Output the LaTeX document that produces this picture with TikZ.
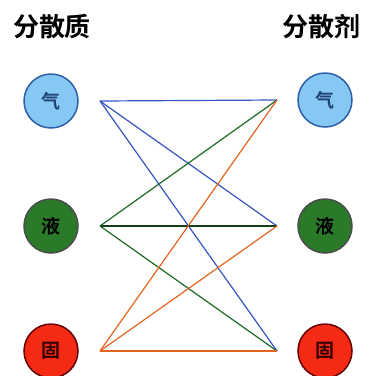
\documentclass[tikz,border=0pt]{standalone}
\usepackage{fontspec}
\newfontfamily\cjk{Noto Sans CJK SC Bold}
\definecolor{gasfill}{HTML}{86C8F4}
\definecolor{gasline}{HTML}{2F5FA8}
\definecolor{liqfill}{HTML}{2A7A2A}
\definecolor{solfill}{HTML}{F42A14}
\definecolor{blueline}{HTML}{3555C0}
\definecolor{greenline}{HTML}{1E6A24}
\definecolor{orangeline}{HTML}{E2641E}
\tikzset{
  phase/.style={circle,minimum size=54pt,inner sep=0pt,line width=1.5pt,
    font=\cjk\fontsize{19}{19}\selectfont},
  title/.style={font=\cjk\fontsize{26}{26}\selectfont,inner sep=0pt},
  link/.style={line width=1.2pt}
}
\begin{document}
\begin{tikzpicture}[x=1pt,y=-1pt]
\useasboundingbox (0,0) rectangle (368,376);

\node[title] (zhi) at (52,27) {分散质};
\node[title] (ji) at (322,27) {分散剂};

\node[phase,draw=gasline,fill=gasfill,text=gasline!70!black] (qiL) at (51,101) {气};
\node[phase,draw=black!70,fill=liqfill,text=black] (yeL) at (51,226) {液};
\node[phase,draw=black!60!red,fill=solfill,text=black!80!red] (guL) at (51,351) {固};
\node[phase,draw=gasline,fill=gasfill,text=gasline!70!black] (qiR) at (325,100) {气};
\node[phase,draw=black!70,fill=liqfill,text=black] (yeR) at (325,226) {液};
\node[phase,draw=black!60!red,fill=solfill,text=black!80!red] (guR) at (325,351) {固};

\coordinate (a1) at (100,101);
\coordinate (a2) at (100,226);
\coordinate (a3) at (100,351);
\coordinate (b1) at (277,100);
\coordinate (b2) at (277,226);
\coordinate (b3) at (277,351);

\draw[link,blueline] (a1) -- (b1);
\draw[link,blueline] (a1) -- (b2);
\draw[link,blueline] (a1) -- (b3);
\draw[link,greenline] (a2) -- (b1);
\draw[link,greenline!60!black] (a2) -- (b2);
\draw[link,greenline] (a2) -- (b3);
\draw[link,orangeline] (a3) -- (b1);
\draw[link,orangeline] (a3) -- (b2);
\draw[link,orangeline] (a3) -- (b3);
\end{tikzpicture}
\end{document}
